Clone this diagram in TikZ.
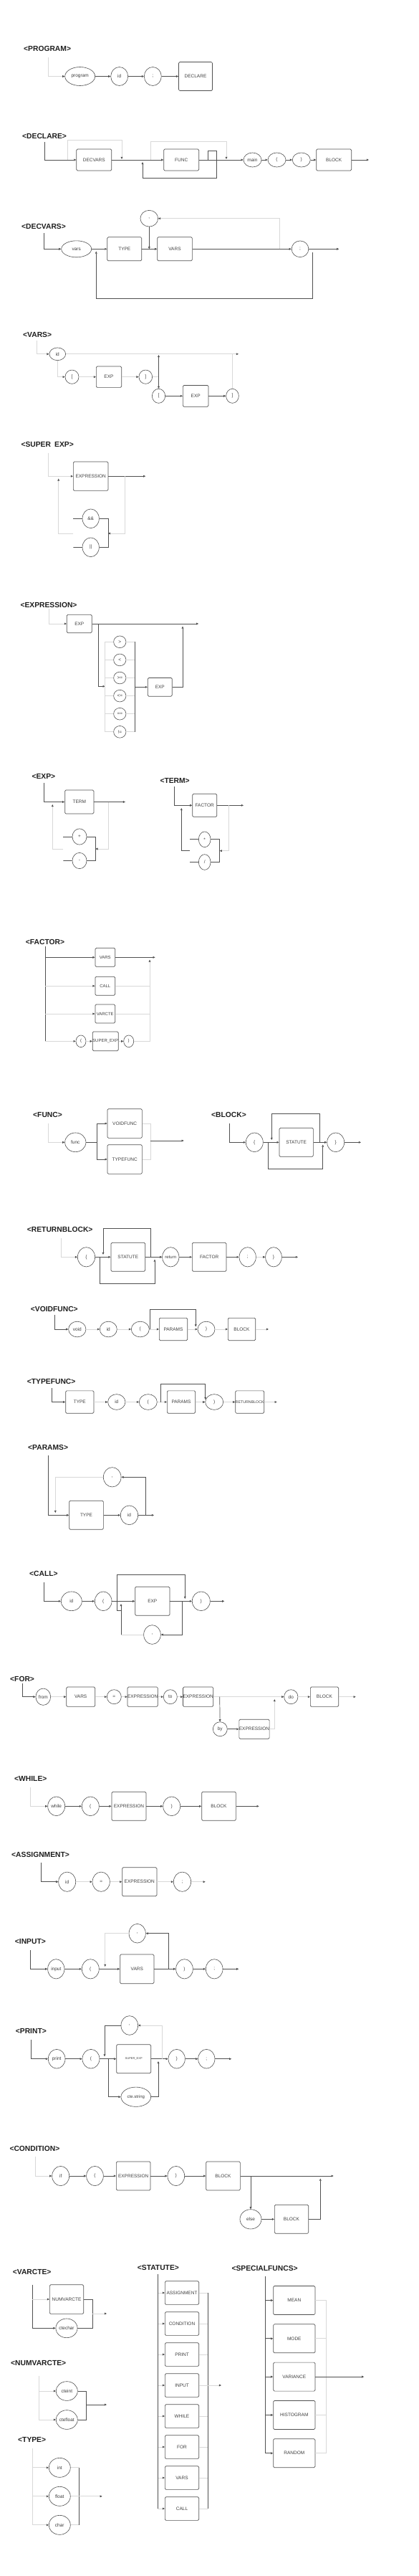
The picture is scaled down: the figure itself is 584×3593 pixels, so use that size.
\documentclass[tikz,border=0pt]{standalone}
\usepackage{fontspec}
\setmainfont{Liberation Sans}
\usetikzlibrary{arrows.meta,shapes.geometric,positioning}
\definecolor{linec}{HTML}{505050}
\definecolor{lightc}{HTML}{D8D8D8}
\definecolor{textc}{HTML}{3C3C3C}
\definecolor{headc}{HTML}{1E1E1E}
\begin{document}
\begin{tikzpicture}[x=1pt, y=-1pt, font=\fontsize{6.5}{7}\selectfont, text=textc,
    box/.style={draw=linec, line width=0.7pt, rounded corners=1.5pt, inner sep=0pt, minimum width=48pt, minimum height=40pt},
    term/.style={ellipse, draw=linec, line width=0.6pt, inner sep=0pt, minimum width=24pt, minimum height=27pt},
    heading/.style={anchor=west, inner sep=0pt, font=\fontsize{10.3}{12}\selectfont\bfseries, text=headc},
    ln/.style={draw=linec, line width=0.7pt},
    lt/.style={draw=lightc, line width=0.7pt},
    arr/.style={-{Triangle[length=3.2pt, width=2.8pt, color=linec]}}]
\useasboundingbox (0,0) rectangle (584,3593);

% PROGRAM
\node[heading] (h-program) at (33,68) {<PROGRAM>};
\node[term, minimum width=42pt, minimum height=26pt] (program-kw) at (111.7,106.5) {program};
\node[term, minimum height=26pt] (program-id) at (166.7,106.5) {id};
\node[term, minimum height=26pt] (program-semi) at (213.3,106.5) {;};
\node[box, minimum width=47pt] (program-declare) at (273,106.5) {DECLARE};
\draw[lt,arr] (67.3,80) |- (program-kw);
\draw[ln,arr] (program-kw) -- (program-id);
\draw[ln,arr] (program-id) -- (program-semi);
\draw[ln,arr] (program-semi) -- (program-declare);

% DECLARE
\node[heading] (h-declare) at (31,190) {<DECLARE>};
\node[box, minimum width=49pt, minimum height=30pt] (declare-decvars) at (131.3,223) {DECVARS};
\node[box, minimum width=49pt, minimum height=30pt] (declare-func) at (253.2,223) {FUNC};
\node[term, minimum width=25pt, minimum height=20pt] (declare-main) at (352.5,223) {main};
\node[term, minimum width=25pt, minimum height=20pt] (declare-lp) at (386.5,223) {(};
\node[term, minimum width=25pt, minimum height=20pt] (declare-rp) at (420.8,223) {)};
\node[box, minimum width=49pt, minimum height=30pt] (declare-block) at (466.2,223) {BLOCK};
\draw[ln,arr] (62,198) |- (declare-decvars);
\draw[lt,arr] (94.3,223) -- (94.3,195) -- (170,195) -- (170,222);
\draw[ln,arr] (declare-decvars) -- (declare-func);
\draw[lt,arr] (210,223) -- (210,197.7) -- (316,197.7) -- (316,222);
\draw[ln,arr] (290,223) -- (290,210.7) -- (302.7,210.7) -- (302.7,248.7) -- (199,248.7) -- (199,226);
\draw[ln,arr] (declare-func) -- (declare-main);
\draw[ln,arr] (declare-main) -- (declare-lp);
\draw[ln,arr] (declare-lp) -- (declare-rp);
\draw[ln,arr] (declare-rp) -- (declare-block);
\draw[ln,arr] (declare-block) -- (515,223);

% DECVARS
\node[heading] (h-decvars) at (30,316) {<DECVARS>};
\node[term, minimum width=42pt, minimum height=23pt] (decvars-kw) at (106.7,347.3) {vars};
\node[box, minimum width=48pt, minimum height=33pt] (decvars-type) at (173.8,347.3) {TYPE};
\node[box, minimum width=48.7pt, minimum height=33pt] (decvars-vars) at (244,347.3) {VARS};
\node[term, minimum width=24.7pt, minimum height=22.7pt] (decvars-comma) at (208.3,304.7) {,};
\node[term, minimum width=23.7pt, minimum height=22.7pt] (decvars-semi) at (419,347.3) {;};
\draw[ln,arr] (61,325) |- (decvars-kw);
\draw[ln,arr] (decvars-kw) -- (decvars-type);
\draw[ln,arr] (decvars-type) -- (decvars-vars);
\draw[ln,arr] (decvars-comma) -- (decvars-comma |- decvars-vars);
\draw[ln,arr] (decvars-vars) -- (decvars-semi);
\draw[lt,arr] (390.7,347.3) |- (decvars-comma);
\draw[ln,arr] (decvars-semi) -- (473.3,347.3);
\draw[ln,arr] (436.7,351.7) -- (436.7,416.3) -- (134.3,416.3) -- (134.3,350.5);

% VARS
\node[heading] (h-vars) at (32,467) {<VARS>};
\node[term, minimum width=22.7pt, minimum height=17.7pt] (vars-id) at (80.3,493.8) {id};
\node[term, minimum width=19pt, minimum height=19.3pt] (vars-lb1) at (100.5,525.7) {[};
\node[box, minimum width=35.3pt, minimum height=29.3pt] (vars-exp1) at (152,525.7) {EXP};
\node[term, minimum width=18.7pt, minimum height=19.3pt] (vars-rb1) at (203.3,525.7) {]};
\node[term, minimum width=18.3pt, minimum height=20pt] (vars-lb2) at (221.5,552.3) {[};
\node[box, minimum width=35.7pt, minimum height=29.7pt] (vars-exp2) at (273.2,552.3) {EXP};
\node[term, minimum width=17.7pt, minimum height=20pt] (vars-rb2) at (324.5,552.3) {]};
\draw[lt,arr] (51.7,475) |- (vars-id);
\draw[lt,arr] (vars-id) -- (333,493.8);
\draw[lt,arr] (vars-id) |- (vars-lb1);
\draw[lt,arr] (vars-lb1) -- (vars-exp1);
\draw[lt,arr] (vars-exp1) -- (vars-rb1);
\draw[lt] (vars-rb1) -- (221.5,525.7);
\draw[ln,arr] (221.5,525.7) -- (221.5,495);
\draw[ln,arr] (221.5,525.7) -- (vars-lb2);
\draw[ln,arr] (vars-lb2) -- (vars-exp2);
\draw[ln,arr] (vars-exp2) -- (vars-rb2);
\draw[lt] (vars-rb2) -- (324.5,493.8);

% SUPER EXP
\node[heading] (h-superexp) at (29.3,620) {<SUPER\enspace EXP>};
\node[box, minimum width=48.7pt, minimum height=40.3pt] (superexp-expr) at (126.7,664.2) {EXPRESSION};
\node[term, minimum width=23.3pt, minimum height=26.7pt] (superexp-and) at (126.7,723.3) {\&\&};
\node[term, minimum width=23.3pt, minimum height=26.7pt] (superexp-or) at (126.7,763.3) {||};
\draw[lt,arr] (67.3,631.7) |- (superexp-expr);
\draw[ln,arr] (superexp-expr) -- (203.3,664.2);
\draw[lt,arr] (174,664.2) |- (151,744);
\draw[ln] (102.3,723.3) -- (superexp-and) -- (151,723.3) -- (151,763.3) -- (superexp-or) -- (102.3,763.3) -- cycle;
\draw[lt,arr] (102.3,744) -- (81.7,744) -- (81.7,667.5);

% EXPRESSION
\node[heading] (h-expression) at (28.3,844) {<EXPRESSION>};
\node[box, minimum width=35pt, minimum height=25.3pt] (expression-exp1) at (110.8,870) {EXP};
\node[box, minimum width=34pt, minimum height=25.7pt] (expression-exp2) at (223.3,958.3) {EXP};
\foreach \op [count=\i from 0] in {>, <, >=, <=, ==, !=} {
  \node[term, minimum width=17.3pt, minimum height=16.7pt] (expression-op\i) at (167.3,895.3+25.1*\i) {\op};
  \draw[lt] (146.7,895.3+25.1*\i) -- (expression-op\i) -- (188.7,895.3+25.1*\i);
}
\draw[lt,arr] (68.3,849.3) |- (expression-exp1);
\draw[ln,arr] (expression-exp1) -- (277.3,870);
\draw[ln,arr] (137.3,870) |- (146.7,957.3);
\draw[lt] (146.7,895.3) -- (146.7,1020.8);
\draw[ln] (188.7,895.3) -- (188.7,1020.8);
\draw[ln,arr] (188.7,958.3) -- (expression-exp2);
\draw[ln,arr] (expression-exp2) -| (255,873.5);

% EXP
\node[heading] (h-exp) at (44.3,1083) {<EXP>};
\node[box, minimum width=40.3pt, minimum height=33pt] (exp-term) at (110.8,1118.5) {TERM};
\node[term, minimum width=20pt, minimum height=22.3pt] (exp-plus) at (111,1167) {+};
\node[term, minimum width=20pt, minimum height=22.3pt] (exp-minus) at (111,1200.5) {-};
\draw[ln,arr] (61.3,1091.7) |- (exp-term);
\draw[ln,arr] (exp-term) -- (175,1118.5);
\draw[lt,arr] (151,1118.5) |- (133.3,1184);
\draw[ln] (88.3,1167) -- (exp-plus) -- (133.3,1167) -- (133.3,1200.5) -- (exp-minus) -- (88.3,1200.5) -- cycle;
\draw[lt,arr] (88.3,1184) -- (73.3,1184) -- (73.3,1122);

% TERM
\node[heading] (h-term) at (223.3,1089) {<TERM>};
\node[box, minimum width=34pt, minimum height=32pt] (term-factor) at (285.7,1123.3) {FACTOR};
\node[term, minimum width=16.7pt, minimum height=21.7pt] (term-mul) at (285.7,1170.8) {*};
\node[term, minimum width=16.7pt, minimum height=21.7pt] (term-div) at (285.7,1202.5) {/};
\draw[ln,arr] (243.7,1097.3) |- (term-factor);
\draw[ln,arr] (term-factor) -- (340,1123.3);
\draw[lt,arr] (319.3,1123.3) |- (306.7,1186.7);
\draw[ln] (265,1170.8) -- (term-mul) -- (306.7,1170.8) -- (306.7,1202.5) -- (term-div) -- (265,1202.5) -- cycle;
\draw[ln,arr] (265,1186.7) -- (253.3,1186.7) -- (253.3,1127);

% FACTOR
\node[heading] (h-factor) at (35.7,1314) {<FACTOR>};
\begin{scope}[every node/.append style={font=\fontsize{6}{7}\selectfont}]
\node[box, minimum width=27.7pt, minimum height=26pt] (factor-vars) at (146.8,1335.3) {VARS};
\node[box, minimum width=27.7pt, minimum height=26pt] (factor-call) at (146.8,1375.2) {CALL};
\node[box, minimum width=27.7pt, minimum height=26pt] (factor-varcte) at (146.8,1414) {VARCTE};
\node[term, minimum width=14pt, minimum height=16.7pt] (factor-lp) at (113,1452.3) {(};
\node[box, minimum width=27pt, minimum height=26.7pt] (factor-superexp) at (147.2,1452.3) {SUPER\_EXP};
\node[term, minimum width=14pt, minimum height=16.7pt] (factor-rp) at (179.7,1452.3) {)};
\end{scope}
\draw[ln] (63.3,1320) -- (63.3,1452.3);
\draw[ln,arr] (63.3,1335.3) -- (factor-vars);
\draw[ln,arr] (factor-vars) -- (216.7,1335.3);
\draw[lt,arr] (63.3,1375.2) -- (factor-call);
\draw[lt] (factor-call) -- (209,1375.2);
\draw[lt,arr] (63.3,1414) -- (factor-varcte);
\draw[lt] (factor-varcte) -- (209,1414);
\draw[lt,arr] (63.3,1452.3) -- (factor-lp);
\draw[lt,arr] (factor-lp) -- (factor-superexp);
\draw[lt,arr] (factor-superexp) -- (factor-rp);
\draw[lt,arr] (factor-rp) -| (209,1338.5);

% FUNC
\node[heading] (h-func) at (46,1554.7) {<FUNC>};
\node[term, minimum width=29.3pt, minimum height=26.7pt] (func-kw) at (105.3,1593.3) {func};
\node[box, minimum width=48.3pt, minimum height=40.7pt] (func-void) at (174.2,1567) {VOIDFUNC};
\node[box, minimum width=48.3pt, minimum height=40.7pt] (func-type) at (174.2,1617) {TYPEFUNC};
\draw[lt,arr] (67.3,1566.7) |- (func-kw);
\draw[ln] (func-kw) -- (135,1593.3);
\draw[ln,arr] (135,1593.3) |- (func-void);
\draw[ln,arr] (135,1593.3) |- (func-type);
\draw[lt] (func-void) -- (210,1567) -- (210,1617) -- (func-type);
\draw[ln,arr] (210,1591) -- (256.7,1591);

% BLOCK
\node[heading] (h-block) at (295,1554.7) {<BLOCK>};
\node[term, minimum width=24pt, minimum height=26.7pt] (block-lb) at (355.3,1593.3) {\{};
\node[box, minimum width=47.3pt, minimum height=40pt] (block-statute) at (413.7,1593.3) {STATUTE};
\node[term, minimum width=24pt, minimum height=26.7pt] (block-rb) at (468.7,1593.3) {\}};
\draw[ln,arr] (320,1566.7) |- (block-lb);
\draw[ln,arr] (block-lb) -- (block-statute);
\draw[ln,arr] (block-statute) -- (block-rb);
\draw[ln,arr] (block-rb) -- (504,1593.3);
\draw[ln,arr] (446,1593.3) -- (446,1553.3) -- (379.3,1553.3) -- (379.3,1590);
\draw[ln,arr] (374,1593.3) -- (374,1630) -- (450.7,1630) -- (450.7,1596.5);

% RETURNBLOCK
\node[heading] (h-returnblock) at (37.7,1715) {<RETURNBLOCK>};
\node[term, minimum width=24.3pt, minimum height=27.3pt] (returnblock-lb) at (120.5,1753.3) {\{};
\node[box, minimum width=47.7pt, minimum height=40pt] (returnblock-statute) at (178.8,1753.3) {STATUTE};
\node[term, minimum width=23.3pt, minimum height=27.3pt, font=\fontsize{6}{7}\selectfont] (returnblock-ret) at (238.3,1753.3) {return};
\node[box, minimum width=47.7pt, minimum height=40pt] (returnblock-factor) at (292.2,1753.3) {FACTOR};
\node[term, minimum width=23.3pt, minimum height=27.3pt] (returnblock-semi) at (345.7,1753.3) {;};
\node[term, minimum width=22.7pt, minimum height=27.3pt] (returnblock-rb) at (382,1753.3) {\}};
\draw[lt,arr] (85,1726.7) |- (returnblock-lb);
\draw[ln,arr] (returnblock-lb) -- (returnblock-statute);
\draw[ln,arr] (returnblock-statute) -- (returnblock-ret);
\draw[ln,arr] (returnblock-ret) -- (returnblock-factor);
\draw[ln,arr] (returnblock-factor) -- (returnblock-semi);
\draw[lt,arr] (returnblock-semi) -- (returnblock-rb);
\draw[ln,arr] (returnblock-rb) -- (416,1753.3);
\draw[ln,arr] (210.7,1753.3) -- (210.7,1713.3) -- (144,1713.3) -- (144,1750);
\draw[ln,arr] (139.3,1753.3) -- (139.3,1790) -- (216,1790) -- (216,1756.5);

% VOIDFUNC
\node[heading] (h-voidfunc) at (42.7,1826) {<VOIDFUNC>};
\node[term, minimum width=24.3pt, minimum height=21.7pt] (voidfunc-kw) at (107.8,1854) {void};
\node[term, minimum width=24pt, minimum height=21.7pt] (voidfunc-id) at (151.3,1854) {id};
\node[term, minimum width=25pt, minimum height=21.7pt] (voidfunc-lp) at (195.8,1854) {(};
\node[box, minimum width=39.3pt, minimum height=31.3pt] (voidfunc-params) at (242,1854) {PARAMS};
\node[term, minimum width=24pt, minimum height=21.7pt] (voidfunc-rp) at (288,1854) {)};
\node[box, minimum width=38.3pt, minimum height=31.3pt] (voidfunc-block) at (337.5,1854) {BLOCK};
\draw[ln,arr] (76.7,1834) |- (voidfunc-kw);
\draw[lt,arr] (voidfunc-kw) -- (voidfunc-id);
\draw[lt,arr] (voidfunc-id) -- (voidfunc-lp);
\draw[lt,arr] (voidfunc-lp) -- (voidfunc-params);
\draw[lt,arr] (voidfunc-params) -- (voidfunc-rp);
\draw[lt,arr] (voidfunc-rp) -- (voidfunc-block);
\draw[lt,arr] (voidfunc-block) -- (375,1854);
\draw[ln,arr] (209.3,1854) -- (209.3,1826) -- (273.3,1826) -- (273.3,1850.5);

% TYPEFUNC
\node[heading] (h-typefunc) at (37.7,1927.3) {<TYPEFUNC>};
\node[box, minimum width=39.3pt, minimum height=31.3pt] (typefunc-type) at (111.3,1955.5) {TYPE};
\node[term, minimum width=24.3pt, minimum height=21.7pt] (typefunc-id) at (162.8,1955.5) {id};
\node[term, minimum width=25pt, minimum height=21.7pt] (typefunc-lp) at (206.8,1955.5) {(};
\node[box, minimum width=39.3pt, minimum height=31.3pt] (typefunc-params) at (253,1955.5) {PARAMS};
\node[term, minimum width=25pt, minimum height=21.7pt] (typefunc-rp) at (299.2,1955.5) {)};
\node[box, minimum width=39.3pt, minimum height=31.3pt, font=\fontsize{5.3}{6}\selectfont] (typefunc-ret) at (348.7,1955.5) {RETURNBLOCK};
\draw[ln,arr] (72.7,1936) |- (typefunc-type);
\draw[lt,arr] (typefunc-type) -- (typefunc-id);
\draw[lt,arr] (typefunc-id) -- (typefunc-lp);
\draw[lt,arr] (typefunc-lp) -- (typefunc-params);
\draw[lt,arr] (typefunc-params) -- (typefunc-rp);
\draw[lt,arr] (typefunc-rp) -- (typefunc-ret);
\draw[lt,arr] (typefunc-ret) -- (386.7,1955.5);
\draw[ln,arr] (224.3,1955.5) -- (224.3,1930) -- (286.7,1930) -- (286.7,1952);

% PARAMS
\node[heading] (h-params) at (39,2018.7) {<PARAMS>};
\node[term, minimum width=24.7pt, minimum height=27.3pt] (params-comma) at (156.7,2060.3) {,};
\node[box, minimum width=47.7pt, minimum height=40pt] (params-type) at (120.5,2113.3) {TYPE};
\node[term, minimum width=24.3pt, minimum height=26.7pt] (params-id) at (180.5,2113.3) {id};
\draw[ln,arr] (67.7,2030) |- (params-type);
\draw[ln,arr] (params-type) -- (params-id);
\draw[ln,arr] (params-id) -- (215,2113.3);
\draw[ln,arr] (203.3,2113.3) |- (params-comma);
\draw[lt,arr] (params-comma) -| (77.3,2110);

% CALL
\node[heading] (h-call) at (41,2195) {<CALL>};
\node[term, minimum width=29pt, minimum height=26.7pt] (call-id) at (99.8,2233.3) {id};
\node[term, minimum width=23.7pt, minimum height=26.7pt] (call-lp) at (144.2,2233.3) {(};
\node[box, minimum width=48.3pt, minimum height=40pt] (call-exp) at (212.8,2233.3) {EXP};
\node[term, minimum width=25pt, minimum height=26.7pt] (call-rp) at (280.8,2233.3) {)};
\node[term, minimum width=23.7pt, minimum height=26.7pt] (call-comma) at (212.5,2280) {,};
\draw[ln,arr] (61,2207.3) |- (call-id);
\draw[ln,arr] (call-id) -- (call-lp);
\draw[ln,arr] (call-lp) -- (call-exp);
\draw[ln,arr] (call-exp) -- (call-rp);
\draw[ln,arr] (call-rp) -- (313.3,2233.3);
\draw[ln,arr] (169,2246) -- (163.3,2246) -- (163.3,2196.7) -- (258.3,2196.7) -- (258.3,2230);
\draw[ln,arr] (254,2233.3) |- (call-comma);
\draw[lt] (call-comma) -- (169,2280);
\draw[ln,arr] (169,2280) -- (169,2237);

% FOR
\node[heading] (h-for) at (14,2342) {<FOR>};
\node[term, minimum width=20.7pt, minimum height=23.3pt] (for-kw) at (60.3,2366.7) {from};
\node[box, minimum width=40pt, minimum height=27.3pt] (for-vars) at (112.7,2366.7) {VARS};
\node[term, minimum width=20pt, minimum height=20pt] (for-eq) at (159.3,2366.7) {=};
\node[box, minimum width=39.7pt, minimum height=27.3pt] (for-expr1) at (199.2,2366.7) {EXPRESSION};
\node[term, minimum width=19pt, minimum height=20pt] (for-to) at (237.8,2366.7) {to};
\node[box, minimum width=40pt, minimum height=27.3pt] (for-expr2) at (276.7,2366.7) {EXPRESSION};
\node[term, minimum width=20pt, minimum height=20pt] (for-by) at (307.3,2411.7) {by};
\node[box, minimum width=40pt, minimum height=27pt] (for-expr3) at (355,2411.7) {EXPRESSION};
\node[term, minimum width=19.3pt, minimum height=20pt] (for-do) at (406.3,2366.7) {do};
\node[box, minimum width=39.3pt, minimum height=27.3pt] (for-block) at (453,2366.7) {BLOCK};
\draw[ln,arr] (31,2348.3) |- (for-kw);
\draw[lt,arr] (for-kw) -- (for-vars);
\draw[lt,arr] (for-vars) -- (for-eq);
\draw[lt,arr] (for-eq) -- (for-expr1);
\draw[lt,arr] (for-expr1) -- (for-to);
\draw[lt,arr] (for-to) -- (for-expr2);
\draw[lt] (for-expr2) -- (306.7,2366.7);
\draw[ln,arr] (306.7,2366.7) -- (for-by);
\draw[ln,arr] (for-by) -- (for-expr3);
\draw[lt,arr] (for-expr3) -| (383.3,2370);
\draw[lt,arr] (306.7,2366.7) -- (for-do);
\draw[lt,arr] (for-do) -- (for-block);
\draw[lt,arr] (for-block) -- (496.7,2366.7);

% WHILE
\node[heading] (h-while) at (20,2481.3) {<WHILE>};
\node[term, minimum width=24pt, minimum height=26.7pt] (while-kw) at (78.7,2519.3) {while};
\node[term, minimum width=24pt, minimum height=26.7pt] (while-lp) at (126.3,2519.3) {(};
\node[box, minimum width=48pt, minimum height=40pt] (while-expr) at (180,2519.3) {EXPRESSION};
\node[term, minimum width=24pt, minimum height=26.7pt] (while-rp) at (239.7,2519.3) {)};
\node[box, minimum width=47.7pt, minimum height=40pt] (while-block) at (305.5,2519.3) {BLOCK};
\draw[lt,arr] (42.7,2493.3) |- (while-kw);
\draw[ln,arr] (while-kw) -- (while-lp);
\draw[ln,arr] (while-lp) -- (while-expr);
\draw[ln,arr] (while-expr) -- (while-rp);
\draw[ln,arr] (while-rp) -- (while-block);
\draw[ln,arr] (while-block) -- (361.7,2519.3);

% ASSIGNMENT
\node[heading] (h-assignment) at (16,2586.7) {<ASSIGNMENT>};
\node[term, minimum width=24pt, minimum height=27.3pt] (assignment-id) at (93.7,2624.7) {id};
\node[term, minimum width=24.3pt, minimum height=27.3pt] (assignment-eq) at (141.2,2624.7) {=};
\node[box, minimum width=48.3pt, minimum height=40pt] (assignment-expr) at (194.8,2624.7) {EXPRESSION};
\node[term, minimum width=24.3pt, minimum height=27.3pt] (assignment-semi) at (254.5,2624.7) {;};
\draw[ln,arr] (57.7,2598.3) |- (assignment-id);
\draw[lt,arr] (assignment-id) -- (assignment-eq);
\draw[lt,arr] (assignment-eq) -- (assignment-expr);
\draw[lt,arr] (assignment-expr) -- (assignment-semi);
\draw[lt,arr] (assignment-semi) -- (286.7,2624.7);

% INPUT
\node[heading] (h-input) at (20.7,2708) {<INPUT>};
\node[term, minimum width=23.3pt, minimum height=26.7pt] (input-comma) at (191.7,2696.7) {,};
\node[term, minimum width=23.3pt, minimum height=27.3pt] (input-kw) at (78.3,2746.3) {input};
\node[term, minimum width=24pt, minimum height=27.3pt] (input-lp) at (126.3,2746.3) {(};
\node[box, minimum width=47.3pt, minimum height=40.7pt] (input-vars) at (191.3,2746.3) {VARS};
\node[term, minimum width=23.7pt, minimum height=27.3pt] (input-rp) at (257.5,2746.3) {)};
\node[term, minimum width=23.7pt, minimum height=27.3pt] (input-semi) at (299.2,2746.3) {;};
\draw[ln,arr] (42.3,2720) |- (input-kw);
\draw[ln,arr] (input-kw) -- (input-lp);
\draw[ln,arr] (input-lp) -- (input-vars);
\draw[ln,arr] (input-vars) -- (input-rp);
\draw[ln,arr] (input-rp) -- (input-semi);
\draw[ln,arr] (input-semi) -- (333.3,2746.3);
\draw[ln,arr] (235,2746.3) |- (input-comma);
\draw[lt,arr] (input-comma) -| (146.7,2743);

% PRINT
\node[heading] (h-print) at (21.7,2833) {<PRINT>};
\node[term, minimum width=23.7pt, minimum height=26.7pt] (print-kw) at (79.2,2871.7) {print};
\node[term, minimum width=24pt, minimum height=26.7pt] (print-lp) at (127,2871.7) {(};
\node[box, minimum width=48pt, minimum height=40pt, font=\fontsize{4}{5}\selectfont] (print-superexp) at (186.7,2871.7) {SUPER\_EXP};
\node[term, minimum width=41.7pt, minimum height=27.3pt, font=\fontsize{6}{7}\selectfont] (print-string) at (189.8,2924.7) {cte.string};
\node[term, minimum width=23.7pt, minimum height=26.7pt] (print-comma) at (180.8,2825) {,};
\node[term, minimum width=23.3pt, minimum height=26.7pt] (print-rp) at (246.7,2871.7) {)};
\node[term, minimum width=23.3pt, minimum height=26.7pt] (print-semi) at (288.3,2871.7) {;};
\draw[ln,arr] (43.3,2845) |- (print-kw);
\draw[ln,arr] (print-kw) -- (print-lp);
\draw[ln,arr] (print-lp) -- (print-superexp);
\draw[ln,arr] (151,2871.7) |- (print-string);
\draw[ln,arr] (print-string) -| (221,2875);
\draw[ln,arr] (print-superexp) -- (print-rp);
\draw[ln,arr] (print-rp) -- (print-semi);
\draw[ln,arr] (print-semi) -- (323.3,2871.7);
\draw[lt,arr] (226,2871.7) |- (print-comma);
\draw[ln,arr] (print-comma) -| (146,2868.5);

% CONDITION
\node[heading] (h-condition) at (13.3,2997) {<CONDITION>};
\node[term, minimum width=24pt, minimum height=27.3pt] (condition-kw) at (84.7,3035) {if};
\node[term, minimum width=23.7pt, minimum height=27.3pt] (condition-lp) at (132.5,3035) {(};
\node[box, minimum width=47.7pt, minimum height=40pt] (condition-expr) at (186.2,3035) {EXPRESSION};
\node[term, minimum width=23.7pt, minimum height=27.3pt] (condition-rp) at (245.8,3035) {)};
\node[box, minimum width=47.7pt, minimum height=40pt] (condition-block) at (311.5,3035) {BLOCK};
\node[term, minimum width=30pt, minimum height=27.3pt] (condition-else) at (350,3095.3) {else};
\node[box, minimum width=47.3pt, minimum height=40pt] (condition-block2) at (407,3095.3) {BLOCK};
\draw[lt,arr] (49.3,3008.3) |- (condition-kw);
\draw[ln,arr] (condition-kw) -- (condition-lp);
\draw[ln,arr] (condition-lp) -- (condition-expr);
\draw[ln,arr] (condition-expr) -- (condition-rp);
\draw[ln,arr] (condition-rp) -- (condition-block);
\draw[ln,arr] (condition-block) -- (465.7,3035);
\draw[ln,arr] (350,3035) -- (condition-else);
\draw[ln,arr] (condition-else) -- (condition-block2);
\draw[ln,arr] (condition-block2) -| (447.3,3038.5);

% VARCTE
\node[heading] (h-varcte) at (17.7,3169.3) {<VARCTE>};
\node[box, minimum width=47.3pt, minimum height=40.7pt] (varcte-num) at (93,3207) {NUMVARCTE};
\node[term, minimum width=29.3pt, minimum height=26.7pt] (varcte-char) at (93,3247.3) {ctechar};
\draw[ln] (45.3,3186.7) -- (45.3,3247.3);
\draw[lt,arr] (45.3,3207) -- (varcte-num);
\draw[ln,arr] (45.3,3247.3) -- (varcte-char);
\draw[ln] (varcte-num) -- (129,3207) -- (129,3247.3) -- (varcte-char);
\draw[lt,arr] (129,3227) -- (149,3227);

% NUMVARCTE
\node[heading] (h-numvarcte) at (15,3296) {<NUMVARCTE>};
\node[term, minimum width=30pt, minimum height=26.7pt] (numvarcte-int) at (93.3,3335) {cteint};
\node[term, minimum width=30pt, minimum height=26.7pt] (numvarcte-float) at (93.3,3375) {ctefloat};
\draw[lt] (54.3,3314) -- (54.3,3375);
\draw[lt,arr] (54.3,3335) -- (numvarcte-int);
\draw[lt,arr] (54.3,3375) -- (numvarcte-float);
\draw[ln] (numvarcte-int) -- (120,3335) -- (120,3375) -- (numvarcte-float);
\draw[ln,arr] (120,3354) -- (149,3354);

% TYPE
\node[heading] (h-type) at (25,3403.3) {<TYPE>};
\foreach \lab [count=\i from 0] in {int, float, char} {
  \node[term, minimum width=30pt, minimum height=27pt] (type-\i) at (83.3,3441.8+40*\i) {\lab};
  \draw[lt,arr] (45,3441.8+40*\i) -- (type-\i);
  \draw[lt] (type-\i) -- (110,3441.8+40*\i);
}
\draw[lt] (45,3415) -- (45,3521.8);
\draw[ln] (110,3441.8) -- (110,3521.8);
\draw[lt,arr] (110,3481.8) -- (142.7,3481.8);

% STATUTE
\node[heading] (h-statute) at (191.7,3162.5) {<STATUTE>};
\foreach \lab [count=\i from 0] in {ASSIGNMENT, CONDITION, PRINT, INPUT, WHILE, FOR, VARS, CALL} {
  \node[box, minimum width=47.3pt, minimum height=32.7pt] (statute-\i) at (254,3198+43*\i) {\lab};
  \draw[lt,arr] (220.3,3198+43*\i) -- (statute-\i);
  \draw[lt] (statute-\i) -- (290.3,3198+43*\i);
}
\draw[ln] (220.3,3171.7) -- (220.3,3499);
\draw[ln] (290.3,3198) -- (290.3,3499);
\draw[lt,arr] (290.3,3327) -- (309,3327);

% SPECIALFUNCS
\node[heading] (h-specialfuncs) at (323.3,3163.7) {<SPECIALFUNCS>};
\foreach \lab [count=\i from 0] in {MEAN, MODE, VARIANCE, HISTOGRAM, RANDOM} {
  \node[box, minimum width=58.3pt, minimum height=40pt] (special-\i) at (410.8,3208.5+53.3*\i) {\lab};
  \draw[ln,arr] (370,3208.5+53.3*\i) -- (special-\i);
  \draw[lt] (special-\i) -- (455.7,3208.5+53.3*\i);
}
\draw[ln] (370,3175) -- (370,3421.7);
\draw[lt] (455.7,3208.5) -- (455.7,3421.7);
\draw[ln,arr] (special-2) -- (508.3,3315.1);
\end{tikzpicture}
\end{document}
